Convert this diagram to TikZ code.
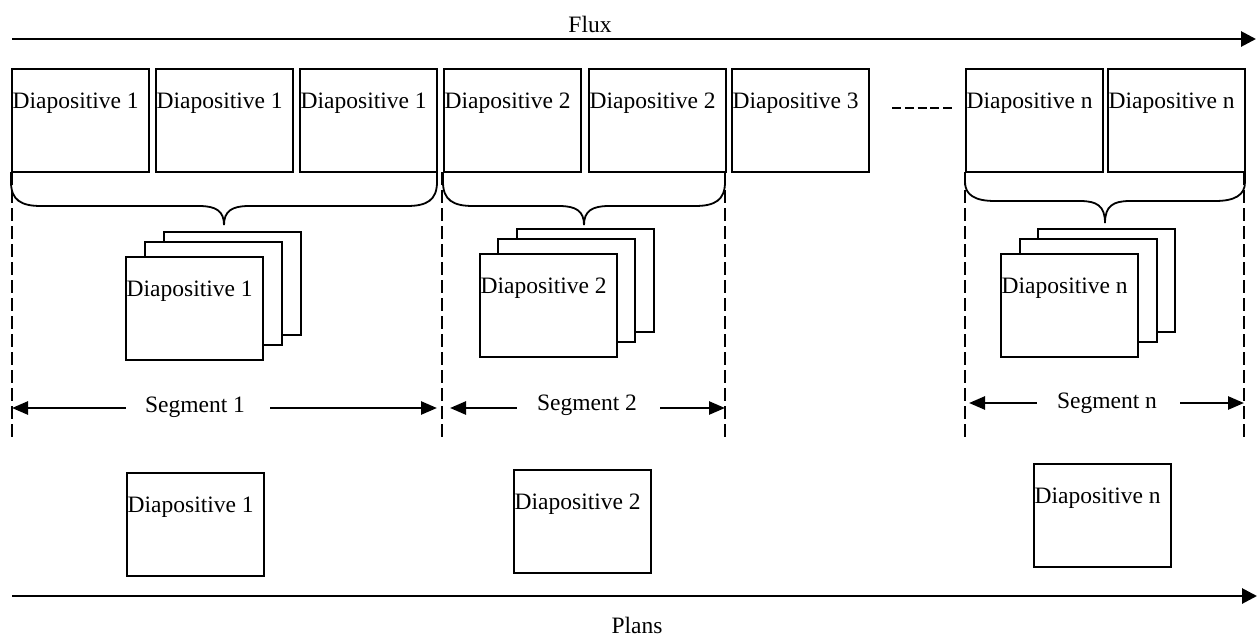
\documentclass[tikz,border=0pt]{standalone}
\usepackage{fontspec}
\setmainfont{Liberation Serif}
\usetikzlibrary{arrows.meta}

\tikzset{
  slide/.style={draw, line width=1.9pt, fill=white, minimum width=137pt,
    minimum height=103pt, inner sep=0pt, anchor=north west},
  txt/.style={inner sep=0pt, font=\fontsize{23.5pt}{28pt}\selectfont},
  caption/.style={txt, anchor=base west},
  axisline/.style={line width=2.8pt, -{Triangle[length=15pt,width=15pt]}},
  spanline/.style={line width=2.6pt, -{Triangle[length=16pt,width=13pt]}},
  cutline/.style={line width=1.4pt, dash pattern=on 13pt off 5pt},
  dotsline/.style={line width=1.5pt, dash pattern=on 9pt off 3.8pt},
  brace/.style={line width=1.8pt},
}

% a slide: name, left, top, caption
\newcommand\slidebox[4]{%
  \node[slide] (#1) at (#2,#3) {};
  \node[caption] (#1t) at ([shift={(1.5pt,-40pt)}]#1.north west) {#4};}

% curly brace: left, right, top, flat level, tip level
\newcommand\curly[5]{%
  \draw[brace] (#1,#3) -- (#1,#3+10)
    .. controls (#1,#4-6) and (#1+10,#4) .. (#1+30,#4)
    -- ({(#1+#2)/2-25},#4)
    .. controls ({(#1+#2)/2-8},#4) and ({(#1+#2)/2},#4+5) .. ({(#1+#2)/2},#5)
    .. controls ({(#1+#2)/2},#4+5) and ({(#1+#2)/2+8},#4) .. ({(#1+#2)/2+25},#4)
    -- (#2-30,#4)
    .. controls (#2-10,#4) and (#2,#4-6) .. (#2,#3+10) -- (#2,#3);}

\begin{document}
\begin{tikzpicture}[x=1pt, y=-1pt]
  \fill[white] (0,0) rectangle (1257,637);
  \useasboundingbox (0,0) rectangle (1257,637);

  % stream axis
  \coordinate (fluxA) at (12,39);
  \coordinate (fluxB) at (1256,39);
  \draw[axisline] (fluxA) -- (fluxB);
  \node[txt, anchor=base] (flux) at (590,32) {Flux};

  % stream of slides
  \slidebox{f1}{11}{68}{Diapositive 1}
  \slidebox{f2}{155}{68}{Diapositive 1}
  \slidebox{f3}{299}{68}{Diapositive 1}
  \slidebox{f4}{443}{68}{Diapositive 2}
  \slidebox{f5}{588}{68}{Diapositive 2}
  \slidebox{f6}{731}{68}{Diapositive 3}
  \slidebox{f7}{965}{68}{Diapositive n}
  \slidebox{f8}{1107}{68}{Diapositive n}

  % ellipsis between slide 3 and slide n
  \coordinate (dotsA) at (892,108);
  \coordinate (dotsB) at (952,108);
  \draw[dotsline] (dotsA) -- (dotsB);

  % segment boundaries
  \foreach \x [count=\i] in {12,442,725,965,1244}{
    \coordinate (cutT\i) at (\x,172);
    \coordinate (cutB\i) at (\x,440);
    \draw[cutline] (cutT\i) -- (cutB\i);
  }

  % braces grouping the slides
  \curly{11}{437}{172}{206}{225}
  \curly{443}{725}{172}{206}{225}
  \curly{965}{1245}{172}{201}{223}

  % stacked slides per segment
  \node[slide] (s1c) at (163,231) {};
  \node[slide] (s1b) at (144,241) {};
  \slidebox{s1a}{125}{256}{Diapositive 1}

  \node[slide] (s2c) at (516,228) {};
  \node[slide] (s2b) at (497,238) {};
  \slidebox{s2a}{479}{253}{Diapositive 2}

  \node[slide] (snc) at (1037,228) {};
  \node[slide] (snb) at (1019,238) {};
  \slidebox{sna}{1000}{253}{Diapositive n}

  % segment extents
  \node[txt, anchor=base] (seg1) at (195,412) {Segment 1};
  \coordinate (seg1L) at (12,408);
  \coordinate (seg1R) at (437,408);
  \draw[spanline] ([xshift=-19pt]seg1.west |- seg1L) -- (seg1L);
  \draw[spanline] ([xshift=25pt]seg1.east |- seg1R) -- (seg1R);

  \node[txt, anchor=base] (seg2) at (587,410) {Segment 2};
  \coordinate (seg2L) at (450,408);
  \coordinate (seg2R) at (725,408);
  \draw[spanline] ([xshift=-20pt]seg2.west |- seg2L) -- (seg2L);
  \draw[spanline] ([xshift=23pt]seg2.east |- seg2R) -- (seg2R);

  \node[txt, anchor=base] (segn) at (1107,408) {Segment n};
  \coordinate (segnL) at (969,403);
  \coordinate (segnR) at (1244,403);
  \draw[spanline] ([xshift=-20pt]segn.west |- segnL) -- (segnL);
  \draw[spanline] ([xshift=23pt]segn.east |- segnR) -- (segnR);

  % shots
  \slidebox{p1}{126}{472}{Diapositive 1}
  \slidebox{p2}{513}{469}{Diapositive 2}
  \slidebox{pn}{1033}{463}{Diapositive n}

  % shots axis
  \coordinate (plansA) at (12,596);
  \coordinate (plansB) at (1257,596);
  \draw[axisline] (plansA) -- (plansB);
  \node[txt, anchor=base] (plans) at (637,633) {Plans};
\end{tikzpicture}
\end{document}
